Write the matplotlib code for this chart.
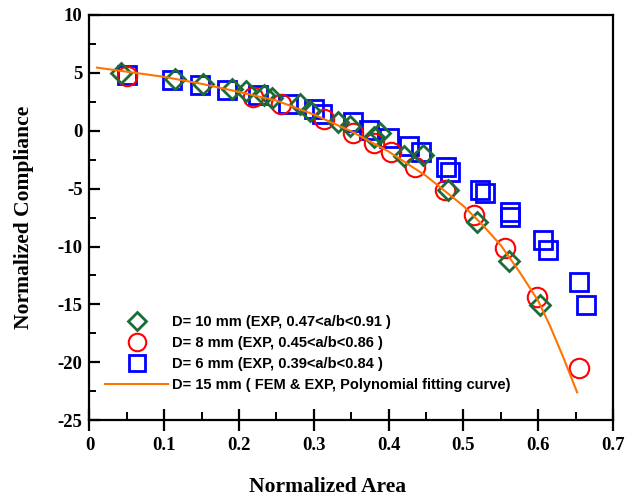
import matplotlib
matplotlib.use('Agg')
import matplotlib.pyplot as plt
from matplotlib.ticker import MultipleLocator

# D = 10 mm (green diamonds)
d10_x = [0.042, 0.114, 0.152, 0.190, 0.209, 0.233, 0.244, 0.281, 0.295, 0.332,
         0.348, 0.380, 0.388, 0.420, 0.446, 0.479, 0.518, 0.561, 0.602]
d10_y = [5.00, 4.48, 4.05, 3.62, 3.45, 3.10, 2.84, 2.33, 1.72, 0.78,
         0.43, -0.52, -0.17, -2.16, -2.07, -5.09, -7.84, -11.21, -15.09]

# D = 8 mm (red circles)
d8_x = [0.050, 0.219, 0.256, 0.314, 0.352, 0.380, 0.403, 0.435, 0.475, 0.514,
        0.556, 0.598, 0.654]
d8_y = [4.74, 2.93, 2.33, 1.03, -0.17, -1.03, -1.81, -3.10, -5.09, -7.24,
        -10.17, -14.40, -20.52]

# D = 6 mm (blue squares)
d6_x = [0.050, 0.110, 0.148, 0.184, 0.225, 0.265, 0.300, 0.311, 0.352, 0.374,
        0.400, 0.427, 0.443, 0.477, 0.482, 0.522, 0.529, 0.562, 0.562, 0.606,
        0.613, 0.655, 0.664]
d6_y = [4.83, 4.40, 3.97, 3.53, 3.10, 2.33, 1.90, 1.47, 0.78, 0.09,
        -0.60, -1.29, -1.81, -3.10, -3.53, -5.09, -5.34, -6.98, -7.41, -9.40,
        -10.34, -13.10, -15.09]

# D = 15 mm fitting curve
fit_x = [0.010, 0.05, 0.10, 0.15, 0.20, 0.25, 0.30, 0.35, 0.40, 0.45,
         0.50, 0.525, 0.55, 0.575, 0.60, 0.616, 0.633, 0.652]
fit_y = [5.45, 5.10, 4.65, 4.05, 3.35, 2.60, 1.40, -0.05, -1.80, -3.90,
         -6.50, -8.10, -9.90, -12.20, -14.70, -16.90, -19.50, -22.60]

labels = ['D= 10 mm (EXP, 0.47<a/b<0.91 )',
          'D= 8 mm (EXP, 0.45<a/b<0.86 )',
          'D= 6 mm (EXP, 0.39<a/b<0.84 )',
          'D= 15 mm ( FEM & EXP, Polynomial fitting curve)']

serif = ['Liberation Serif', 'DejaVu Serif']
sans = ['Liberation Sans', 'DejaVu Sans']

plt.rcParams['axes.unicode_minus'] = False

fig = plt.figure(figsize=(6.32, 4.99), dpi=100)
ax = fig.add_axes([0.1416, 0.158, 0.8284, 0.812])

ax.plot(d10_x, d10_y, linestyle='none', marker='D', ms=10, mfc='none',
        mec='#1d6b38', mew=2, label=labels[0], zorder=4)
ax.plot(d8_x, d8_y, linestyle='none', marker='o', ms=14, mfc='none',
        mec='#ff0000', mew=1.5, label=labels[1], zorder=3)
ax.plot(d6_x, d6_y, linestyle='none', marker='s', ms=13, mfc='none',
        mec='#0000ff', mew=2, label=labels[2], zorder=2)
ax.plot(fit_x, fit_y, color='#ff7400', lw=1.5, label=labels[3], zorder=5)

ax.set_xlim(0, 0.7)
ax.set_ylim(-25, 10)
ax.xaxis.set_major_locator(MultipleLocator(0.1))
ax.xaxis.set_minor_locator(MultipleLocator(0.05))
ax.yaxis.set_major_locator(MultipleLocator(5))
ax.yaxis.set_minor_locator(MultipleLocator(2.5))
ax.set_xticks([0, 0.1, 0.2, 0.3, 0.4, 0.5, 0.6, 0.7])
ax.set_xticklabels(['0', '0.1', '0.2', '0.3', '0.4', '0.5', '0.6', '0.7'])

for s in ax.spines.values():
    s.set_linewidth(1.6)

ax.tick_params(axis='x', which='major', direction='inout', length=16, width=1.6, pad=4)
ax.tick_params(axis='x', which='minor', direction='in', length=6, width=1.4)
ax.tick_params(axis='y', which='major', direction='in', length=8, width=1.6, pad=5)
ax.tick_params(axis='y', which='minor', direction='in', length=5, width=1.4)

for t in ax.get_xticklabels() + ax.get_yticklabels():
    t.set_fontfamily(serif)
    t.set_fontweight('bold')
    t.set_fontsize(13.5)

ax.set_xlabel('Normalized Area', fontfamily=serif, fontweight='bold', fontsize=15.5)
ax.set_ylabel('Normalized Compliance', fontfamily=serif, fontweight='bold', fontsize=15.5)
ax.xaxis.set_label_coords(0.454, -0.14)
ax.yaxis.set_label_coords(-0.106, 0.5)

leg = ax.legend(loc='lower left', bbox_to_anchor=(0.03, 0.07), frameon=False,
                prop={'family': sans, 'weight': 'bold', 'size': 10.5},
                handlelength=4.3, handletextpad=0.3, labelspacing=0.48,
                borderpad=0, borderaxespad=0, markerscale=0.9)

fig.savefig('out.png', dpi=100)
